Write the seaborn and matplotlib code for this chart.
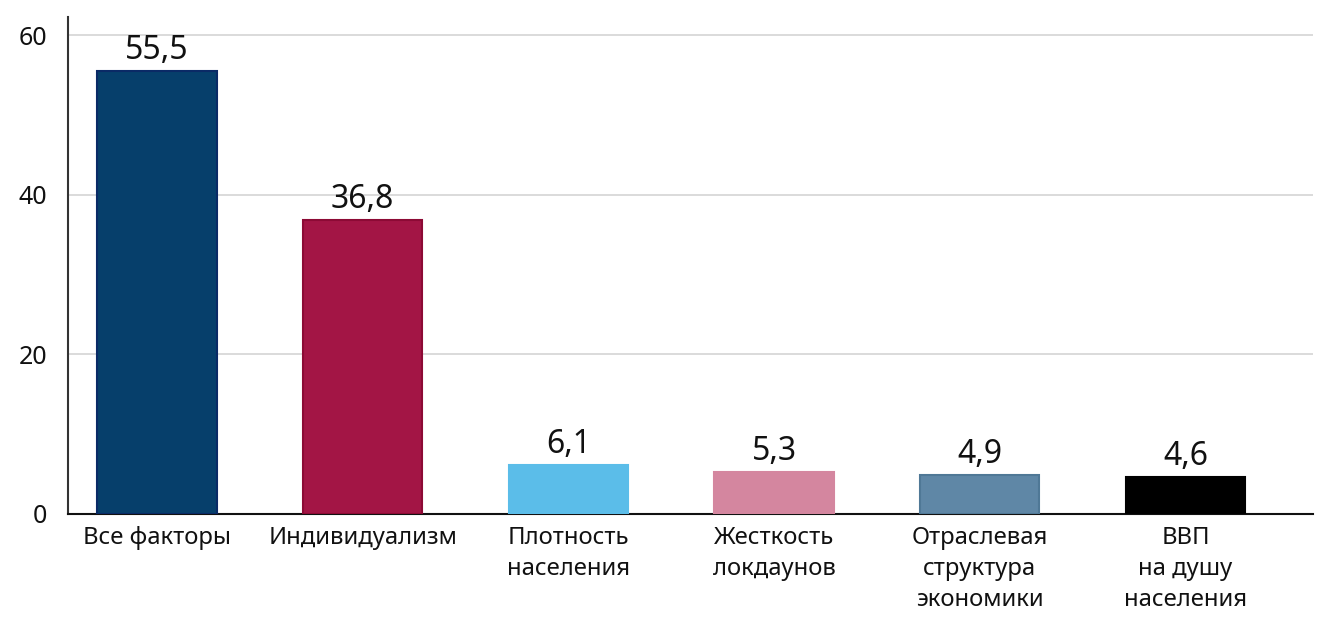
import matplotlib
matplotlib.use("Agg")
import matplotlib.pyplot as plt
import seaborn as sns
import pandas as pd

# data
categories = [
    "Все факторы",
    "Индивидуализм",
    "Плотность\nнаселения",
    "Жесткость\nлокдаунов",
    "Отраслевая\nструктура\nэкономики",
    "ВВП\nна душу\nнаселения",
]
values = [55.5, 36.8, 6.1, 5.3, 4.9, 4.6]
bar_colors = ["#063f6b", "#a31545", "#5bbde9", "#d4869f", "#5f87a6", "#000000"]
edge_colors = ["#0a2a66", "#8c0a35", "#5bbde9", "#d4869f", "#4f7896", "#000000"]
y_ticks = [0, 20, 40, 60]

sns.set_theme(style="white")
plt.rcParams["font.family"] = ["Noto Sans", "DejaVu Sans"]

df = pd.DataFrame({"factor": categories, "value": values})

fig = plt.figure(figsize=(13.33, 6.2), dpi=100)
ax = fig.add_axes([0.051, 0.171, 0.934, 0.802])

sns.barplot(data=df, x="factor", y="value", hue="factor", palette=bar_colors,
            legend=False, width=0.58, saturation=1, ax=ax, zorder=3)

for patch, ec in zip(ax.patches, edge_colors):
    patch.set_edgecolor(ec)
    patch.set_linewidth(1.5)

for cont in ax.containers:
    ax.bar_label(cont, labels=[f"{v:.1f}".replace(".", ",") for v in cont.datavalues],
                 padding=3, fontsize=23, fontweight="medium", color="#111111")

ax.set_xlim(-0.433, 5.62)
ax.set_ylim(0, 62.3)
ax.set_yticks(y_ticks)
ax.yaxis.grid(True, color="#d4d4d4", linewidth=1.2, zorder=0)
ax.set_axisbelow(True)

ax.tick_params(axis="y", length=0, pad=15, labelsize=18, labelcolor="#111111")
ax.tick_params(axis="x", length=0, pad=9, labelsize=17.2, labelcolor="#111111")
for lbl in ax.get_xticklabels():
    lbl.set_linespacing(1.38)

ax.set_xlabel("")
ax.set_ylabel("")
for side in ["top", "right"]:
    ax.spines[side].set_visible(False)
ax.spines["left"].set_color("#333333")
ax.spines["left"].set_linewidth(1.5)
ax.spines["bottom"].set_color("#111111")
ax.spines["bottom"].set_linewidth(1.5)

fig.savefig("out.png", dpi=100)
